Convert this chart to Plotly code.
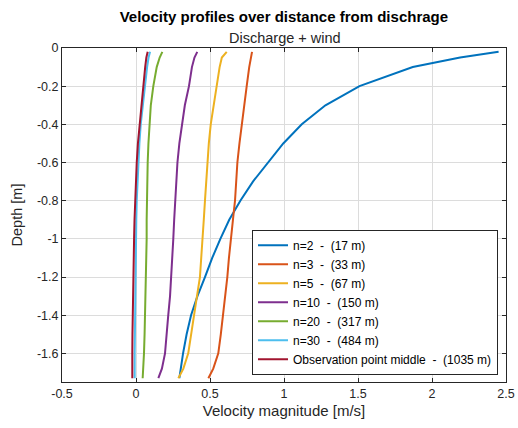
import plotly.graph_objects as go

depth = [-0.02, -0.05, -0.1, -0.2, -0.3, -0.4, -0.5, -0.6, -0.7, -0.8, -0.9, -1.0,
         -1.1, -1.2, -1.3, -1.4, -1.5, -1.6, -1.68, -1.73]

v_n2 = [2.45, 2.19, 1.87, 1.51, 1.28, 1.12, 0.995, 0.89, 0.79, 0.705, 0.63, 0.57,
        0.515, 0.466, 0.415, 0.372, 0.342, 0.318, 0.302, 0.293]
v_n3 = [0.784, 0.775, 0.765, 0.748, 0.73, 0.714, 0.699, 0.685, 0.677, 0.669, 0.655, 0.64,
        0.628, 0.617, 0.604, 0.59, 0.573, 0.556, 0.522, 0.489]
v_n5 = [0.613, 0.58, 0.565, 0.545, 0.522, 0.505, 0.492, 0.482, 0.474, 0.466, 0.458, 0.45,
        0.441, 0.432, 0.412, 0.392, 0.373, 0.353, 0.32, 0.286]
v_n10 = [0.414, 0.395, 0.378, 0.358, 0.33, 0.309, 0.293, 0.28, 0.271, 0.264, 0.258, 0.252,
         0.246, 0.241, 0.23, 0.218, 0.207, 0.196, 0.175, 0.151]
v_n20 = [0.178, 0.16, 0.14, 0.117, 0.1, 0.09, 0.084, 0.079, 0.075, 0.072, 0.072, 0.072,
         0.07, 0.068, 0.064, 0.061, 0.058, 0.054, 0.05, 0.045]
v_n30 = [0.095, 0.085, 0.075, 0.06, 0.045, 0.032, 0.023, 0.016, 0.01, 0.005, 0.002, 0.0,
         -0.002, -0.005, -0.006, -0.007, -0.008, -0.009, -0.009, -0.009]
v_obs = [0.079, 0.07, 0.062, 0.05, 0.035, 0.023, 0.013, 0.005, -0.001, -0.007, -0.01, -0.013,
         -0.016, -0.018, -0.02, -0.022, -0.024, -0.025, -0.025, -0.025]

series_names = ["n=2  -  (17 m)", "n=3  -  (33 m)", "n=5  -  (67 m)", "n=10  -  (150 m)",
                "n=20  -  (317 m)", "n=30  -  (484 m)", "Observation point middle  -  (1035 m)"]
series_values = [v_n2, v_n3, v_n5, v_n10, v_n20, v_n30, v_obs]
colors = ["#0072BD", "#D95319", "#EDB120", "#7E2F8E", "#77AC30", "#4DBEEE", "#A2142F"]

x_ticks = [-0.5, 0, 0.5, 1, 1.5, 2, 2.5]
x_ticklabels = ["-0.5", "0", "0.5", "1", "1.5", "2", "2.5"]
y_ticks = [0, -0.2, -0.4, -0.6, -0.8, -1, -1.2, -1.4, -1.6]
y_ticklabels = ["0", "-0.2", "-0.4", "-0.6", "-0.8", "-1", "-1.2", "-1.4", "-1.6"]

font_family = "Liberation Sans, Arial, sans-serif"

fig = go.Figure()
for name, vals, col in zip(series_names, series_values, colors):
    fig.add_trace(go.Scatter(x=vals, y=depth, mode="lines", name=name,
                             line=dict(color=col, width=2)))

axis_common = dict(
    showgrid=True, gridcolor="#DCDCDC", gridwidth=1,
    zeroline=False, showline=True, linecolor="#262626", linewidth=1, mirror="ticks",
    ticks="inside", ticklen=4, tickcolor="#262626", automargin=False,
    tickfont=dict(family=font_family, size=12.5, color="#262626"),
)

fig.update_layout(
    width=518, height=428,
    margin=dict(l=62, r=12, t=48, b=46),
    paper_bgcolor="white", plot_bgcolor="white",
    font=dict(family=font_family, size=12, color="#262626"),
    title=dict(
        text="<b>Velocity profiles over distance from dischrage</b>",
        x=0.548, xanchor="center", y=0.961, yanchor="middle",
        font=dict(family=font_family, size=15, color="black"),
    ),
    xaxis=dict(range=[-0.5, 2.5], tickvals=x_ticks, ticktext=x_ticklabels,
               title=dict(text="Velocity magnitude [m/s]", standoff=5,
                          font=dict(family=font_family, size=15, color="#262626")),
               **axis_common),
    yaxis=dict(range=[-1.75, 0], tickvals=y_ticks, ticktext=y_ticklabels,
               title=dict(text="Depth [m]", standoff=10,
                          font=dict(family=font_family, size=14.5, color="#262626")),
               **axis_common),
    legend=dict(x=0.982, y=0.022, xanchor="right", yanchor="bottom",
                bgcolor="white", bordercolor="#262626", borderwidth=1,
                font=dict(family=font_family, size=12, color="black"),
                tracegroupgap=0),
    showlegend=True,
)

fig.add_annotation(text="Discharge + wind", xref="paper", yref="paper",
                   x=0.502, y=1.0, yshift=10, xanchor="center", yanchor="middle",
                   showarrow=False,
                   font=dict(family=font_family, size=14.5, color="#262626"))

fig.write_html("out.html", config={"displayModeBar": False},
               post_script="document.body.style.margin='0';")
